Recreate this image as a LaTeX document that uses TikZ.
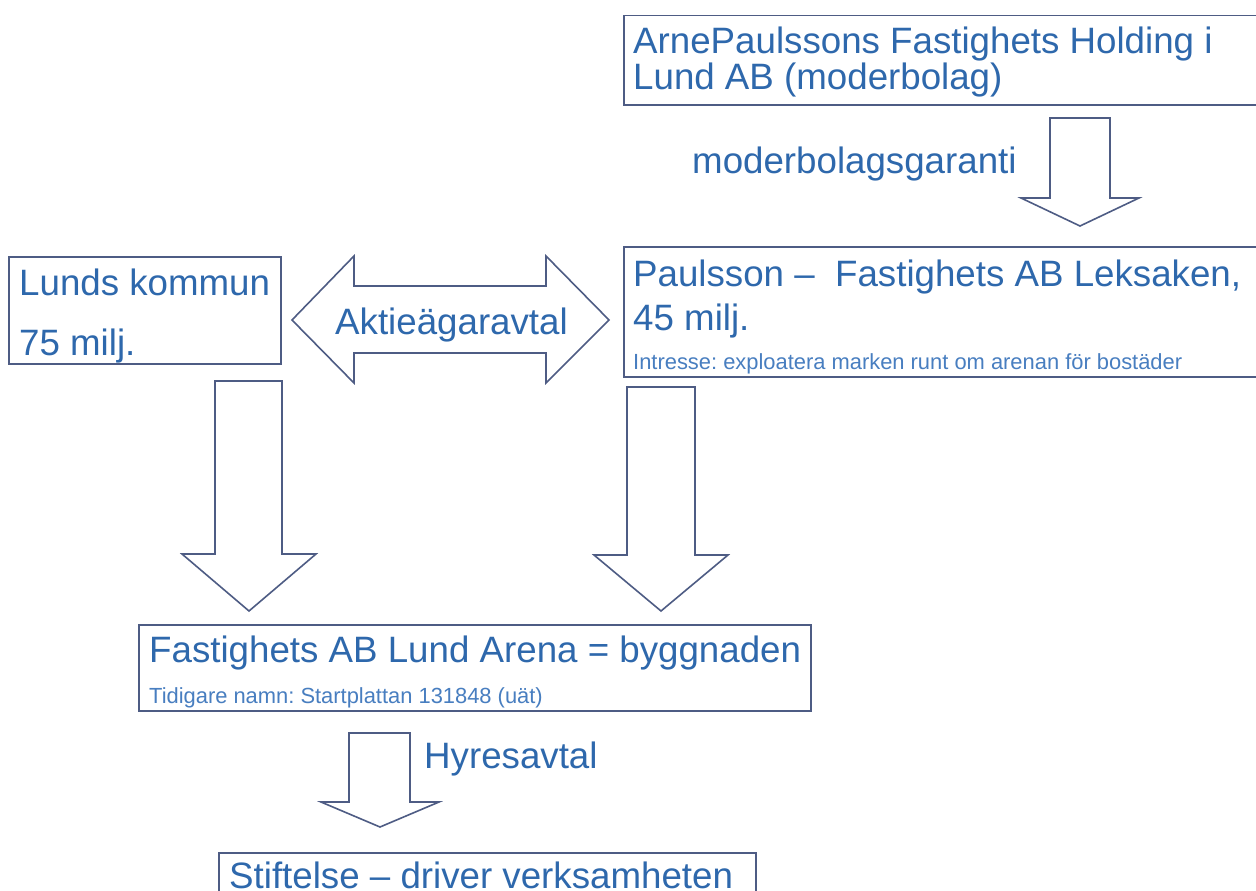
\documentclass[tikz,border=0pt]{standalone}
\usepackage{fontspec}
\setmainfont{Liberation Sans}
\frenchspacing
\definecolor{txtblue}{RGB}{46,104,172}
\definecolor{smallblue}{RGB}{72,126,192}
\definecolor{edge}{RGB}{78,92,132}
\begin{document}
\begin{tikzpicture}[x=1pt,y=-1pt,
  box/.style={draw=edge,line width=1.5pt,inner sep=0pt,anchor=north west},
  big/.style={text=txtblue,font=\fontsize{36.7}{34}\selectfont,inner sep=0pt,anchor=base west},
  small/.style={text=smallblue,font=\fontsize{21.9}{24}\selectfont,inner sep=0pt,anchor=base west},
  blk/.style={draw=edge,line width=1.6pt,fill=white,line join=miter}]
\useasboundingbox (0,0) rectangle (1256,891);
\clip (0,0) rectangle (1256,891);
\fill[white] (0,0) rectangle (1256,891);

% boxes
\node[box,minimum width=650pt,minimum height=89pt] (holding) at (623,15) {};
\node[box,minimum width=650pt,minimum height=130pt] (leksaken) at (623,246) {};
\node[box,minimum width=272pt,minimum height=107pt] (kommun) at (8,256) {};
\node[box,minimum width=672pt,minimum height=86pt] (arena) at (138,624) {};
\node[box,minimum width=537pt,minimum height=60pt] (stiftelse) at (218,852) {};

% block arrows
\draw[blk] (1050,118) -- (1110,118) -- (1110,198) -- (1139,198) -- (1080,226)
  -- (1021,198) -- (1050,198) -- cycle;
\draw[blk] (292,320) -- (354,256) -- (354,286) -- (546,286) -- (546,256) -- (609,320)
  -- (546,383) -- (546,353) -- (354,353) -- (354,383) -- cycle;
\draw[blk] (215,381) -- (282,381) -- (282,554) -- (316,554) -- (249,611)
  -- (182,554) -- (215,554) -- cycle;
\draw[blk] (627,387) -- (695,387) -- (695,555) -- (728,555) -- (661,611)
  -- (594,555) -- (627,555) -- cycle;
\draw[blk] (349,733) -- (410,733) -- (410,802) -- (439,802) -- (380,827)
  -- (321,802) -- (349,802) -- cycle;

% texts
\node[big] (t1a) at (633,54) {ArnePaulssons Fastighets Holding i};
\node[big] (t1b) at (633,89) {Lund AB (moderbolag)};
\node[big] (garanti) at (692,173) {moderbolagsgaranti};
\node[big] (t2a) at (633,286) {Paulsson –~~Fastighets AB Leksaken,};
\node[big] (t2b) at (633,330) {45 milj.};
\node[small] (t2c) at (633,369) {Intresse: exploatera marken runt om arenan för bostäder};
\node[big] (t3a) at (19,295) {Lunds kommun};
\node[big] (t3b) at (19,355) {75 milj.};
\node[big] (aktie) at (335,334) {Aktieägaravtal};
\node[big] (t4a) at (149,662) {Fastighets AB Lund Arena = byggnaden};
\node[small] (t4b) at (149,703) {Tidigare namn: Startplattan 131848 (uät)};
\node[big] (hyres) at (424,768) {Hyresavtal};
\node[big] (t5) at (229,888) {Stiftelse – driver verksamheten};
\end{tikzpicture}
\end{document}
